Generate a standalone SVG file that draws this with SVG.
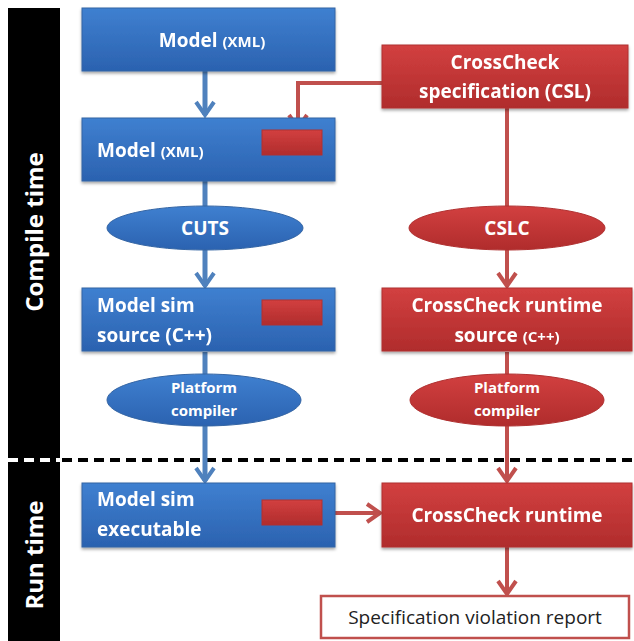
<svg xmlns="http://www.w3.org/2000/svg" width="634" height="641" viewBox="0 0 634 641">
<style>
.bl{fill:url(#gb);stroke:#3465a4;stroke-width:1}
.rd{fill:url(#gr);stroke:#b03030;stroke-width:1}
.t{font-family:"Open Sans","Liberation Sans",sans-serif;font-weight:bold;fill:#fff;font-size:19px}
.s{font-size:15px}
.p{font-size:15px}
.c{text-anchor:middle}
.cb{stroke:#4f81bd;stroke-width:5;fill:none}
.cr{stroke:#c0504d;stroke-width:4;fill:none}
.side{font-family:"Open Sans","Liberation Sans",sans-serif;font-weight:bold;fill:#fff;font-size:24px;text-anchor:middle}
</style>
<defs>
<linearGradient id="gb" x1="0" y1="0" x2="0" y2="1"><stop offset="0" stop-color="#3f80d0"/><stop offset="1" stop-color="#2b62b0"/></linearGradient>
<linearGradient id="gr" x1="0" y1="0" x2="0" y2="1"><stop offset="0" stop-color="#d24040"/><stop offset="1" stop-color="#b02c2c"/></linearGradient>
<filter id="sh" x="-10%" y="-10%" width="120%" height="130%"><feDropShadow dx="0" dy="2" stdDeviation="1.5" flood-color="#000" flood-opacity="0.35"/></filter>
<marker id="ab" markerUnits="userSpaceOnUse" viewBox="-16 -12 20 24" markerWidth="20" markerHeight="24" refX="0" refY="0" orient="auto"><path d="M-13,-9 L0,0 L-13,9" fill="none" stroke="#4f81bd" stroke-width="4"/></marker>
<marker id="ar" markerUnits="userSpaceOnUse" viewBox="-16 -12 20 24" markerWidth="20" markerHeight="24" refX="0" refY="0" orient="auto"><path d="M-13,-9 L0,0 L-13,9" fill="none" stroke="#c0504d" stroke-width="4"/></marker>
</defs>
<rect width="634" height="641" fill="#fff"/>
<g id="sidebar">
<rect x="8" y="8" width="52" height="633" fill="#000"/>
<text class="side" transform="translate(43,232) rotate(-90)">Compile time</text>
<text class="side" transform="translate(43,555) rotate(-90)">Run time</text>
</g>
<g id="divider">
<line x1="8" y1="460" x2="60" y2="460" stroke="#fff" stroke-width="4" stroke-dasharray="10,6"/>
<line x1="62" y1="460" x2="634" y2="460" stroke="#000" stroke-width="4" stroke-dasharray="10,6"/>
</g>
<g id="connectors">
<line class="cb" x1="205" y1="71" x2="205" y2="115" marker-end="url(#ab)"/>
<line class="cb" x1="205" y1="181" x2="205" y2="206"/>
<line class="cb" x1="205" y1="250" x2="205" y2="286" marker-end="url(#ab)"/>
<line class="cb" x1="205" y1="352" x2="205" y2="374"/>
<line class="cb" x1="205" y1="426" x2="205" y2="481" marker-end="url(#ab)"/>
<polyline class="cr" points="382,83 298,83 298,128" marker-end="url(#ar)"/>
<line class="cr" x1="507" y1="108" x2="507" y2="206"/>
<line class="cr" x1="507" y1="250" x2="507" y2="286" marker-end="url(#ar)"/>
<line class="cr" x1="507" y1="352" x2="507" y2="374"/>
<line class="cr" x1="507" y1="426" x2="507" y2="481" marker-end="url(#ar)"/>
<line class="cr" x1="322" y1="513" x2="380" y2="513" marker-end="url(#ar)"/>
<line class="cr" x1="507" y1="547" x2="507" y2="594" marker-end="url(#ar)"/>
</g>
<g id="model1" filter="url(#sh)">
<rect class="bl" x="82" y="8" width="253" height="63"/>
<text class="t c" x="212" y="47">Model <tspan class="s">(XML)</tspan></text>
</g>
<g id="model2" filter="url(#sh)">
<rect class="bl" x="82" y="118" width="253" height="63"/>
<text class="t" x="97" y="157">Model <tspan class="s">(XML)</tspan></text>
<rect class="rd" x="262" y="130" width="60" height="25"/>
</g>
<g id="cuts">
<ellipse class="bl" cx="205" cy="228" rx="98" ry="22"/>
<text class="t c" x="205" y="235">CUTS</text>
</g>
<g id="simsrc" filter="url(#sh)">
<rect class="bl" x="82" y="288" width="253" height="63"/>
<text class="t" x="97" y="312">Model sim</text>
<text class="t" x="97" y="342">source (C++)</text>
<rect class="rd" x="262" y="300" width="60" height="25"/>
</g>
<g id="pc1">
<ellipse class="bl" cx="204" cy="400" rx="97" ry="26"/>
<text class="t c p" x="204" y="393">Platform</text>
<text class="t c p" x="204" y="416">compiler</text>
</g>
<g id="simexe" filter="url(#sh)">
<rect class="bl" x="82" y="483" width="253" height="64"/>
<text class="t" x="97" y="506">Model sim</text>
<text class="t" x="97" y="536">executable</text>
<rect class="rd" x="262" y="500" width="60" height="25"/>
</g>
<g id="cslspec" filter="url(#sh)">
<rect class="rd" x="382" y="45" width="246" height="63"/>
<text class="t c" x="505" y="69">CrossCheck</text>
<text class="t c" x="505" y="98">specification (CSL)</text>
</g>
<g id="cslc">
<ellipse class="rd" cx="507" cy="228" rx="98" ry="22"/>
<text class="t c" x="507" y="235">CSLC</text>
</g>
<g id="rtsrc" filter="url(#sh)">
<rect class="rd" x="382" y="288" width="250" height="63"/>
<text class="t c" x="507" y="312">CrossCheck runtime</text>
<text class="t c" x="507" y="342">source <tspan class="s">(C++)</tspan></text>
</g>
<g id="pc2">
<ellipse class="rd" cx="507" cy="400" rx="97" ry="26"/>
<text class="t c p" x="507" y="393">Platform</text>
<text class="t c p" x="507" y="416">compiler</text>
</g>
<g id="runtime" filter="url(#sh)">
<rect class="rd" x="382" y="483" width="250" height="64"/>
<text class="t c" x="507" y="522">CrossCheck runtime</text>
</g>
<g id="report">
<rect x="321" y="596" width="308" height="42" fill="#fff" stroke="#c0504d" stroke-width="2.5"/>
<text x="475" y="624" text-anchor="middle" font-family="Open Sans, Liberation Sans, sans-serif" font-size="19" fill="#222">Specification violation report</text>
</g>
</svg>
